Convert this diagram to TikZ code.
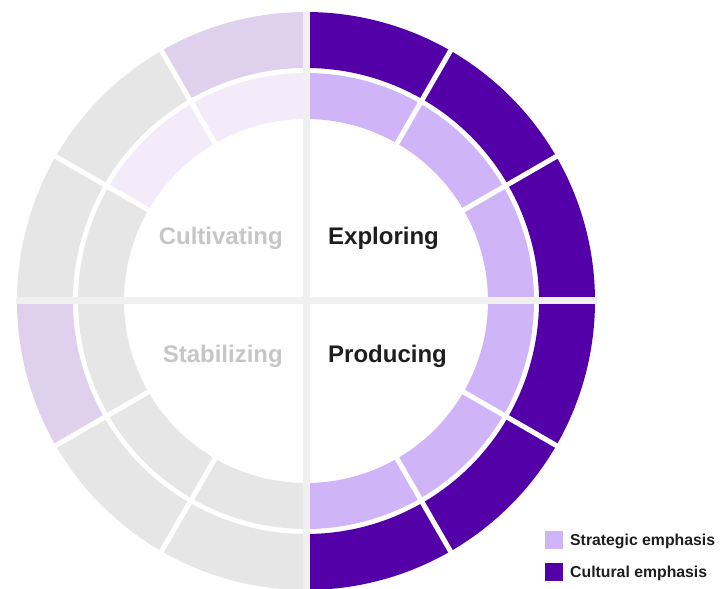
\documentclass[tikz,border=0pt]{standalone}
\usepackage{fontspec}
\setmainfont{Liberation Sans}
\usepackage{xcolor}
\usetikzlibrary{positioning}

\definecolor{cult}{HTML}{5300A8}
\definecolor{strat}{HTML}{CFB4F8}
\definecolor{lav}{HTML}{DFD1EE}
\definecolor{pale}{HTML}{F3EBFA}
\definecolor{gry}{HTML}{E6E6E6}
\definecolor{cross}{HTML}{F0F0F0}
\definecolor{dim}{HTML}{C6C6C6}
\definecolor{ink}{HTML}{1E1E1E}

\tikzset{
    phase/.style={font=\bfseries\fontsize{24}{24}\selectfont, inner sep=0pt},
    legbox/.style={minimum size=18pt, inner sep=0pt},
    legtext/.style={font=\bfseries\fontsize{15.8}{16}\selectfont, text=ink, inner sep=0pt}
}

\begin{document}
\begin{tikzpicture}[x=1pt, y=1pt]
        \useasboundingbox (0, 0) rectangle (723, 589);

        \begin{scope}[shift={(306, 288)}]
            % outer ring
            \foreach \k/\c in {0/cult, 1/cult, 2/cult, 3/lav, 4/gry, 5/gry,
                               6/lav, 7/gry, 8/gry, 9/cult, 10/cult, 11/cult} {
                \fill [\c] (30*\k:289) arc [start angle=30*\k, end angle=30*\k+30, radius=289pt]
                    -- (30*\k+30:233) arc [start angle=30*\k+30, end angle=30*\k, radius=233pt] -- cycle;
            }
            % inner ring
            \foreach \k/\c in {0/strat, 1/strat, 2/strat, 3/pale, 4/pale, 5/gry,
                               6/gry, 7/gry, 8/gry, 9/strat, 10/strat, 11/strat} {
                \fill [\c] (30*\k:228) arc [start angle=30*\k, end angle=30*\k+30, radius=228pt]
                    -- (30*\k+30:182) arc [start angle=30*\k+30, end angle=30*\k, radius=182pt] -- cycle;
            }
            \foreach \a in {30, 60, 120, 150, 210, 240, 300, 330}
                \draw [white, line width=5pt] (\a:178) -- (\a:293);
            % quadrant cross
            \draw [cross, line width=7pt] (-290, 0) -- (291, 0);
            \draw [cross, line width=7pt] (0, -289) -- (0, 289);
        \end{scope}

        \node [phase, text=ink, anchor=base west] (exploring) at (328, 344) {Exploring};
        \node [phase, text=ink, anchor=base west] (producing) at (328, 226) {Producing};
        \node [phase, text=dim, anchor=base east] (cultivating) at (283, 344) {Cultivating};
        \node [phase, text=dim, anchor=base east] (stabilizing) at (283, 226) {Stabilizing};

        \node [legbox, fill=strat] (stratbox) at (554, 49) {};
        \node [legbox, fill=cult] (cultbox) at (554, 17) {};
        \node [legtext, anchor=base west] (strattext) at (570, 43) {Strategic emphasis};
        \node [legtext, anchor=base west] (culttext) at (570, 11) {Cultural emphasis};
    \end{tikzpicture}
\end{document}
